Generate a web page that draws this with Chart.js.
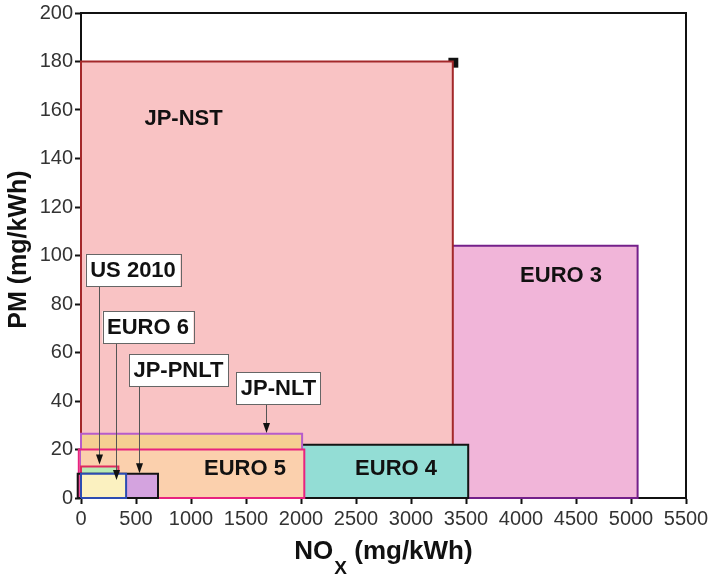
<!DOCTYPE html>
<html>
<head>
<meta charset="utf-8">
<script src="https://cdn.jsdelivr.net/npm/chart.js@4.4.0/dist/chart.umd.min.js"></script>
<style>
  html, body { margin: 0; padding: 0; background: #fff; }
</style>
</head>
<body>
<canvas id="chart" width="708" height="576"></canvas>
<script>
// emission limits, drawn bottom to top
const standards = ["EURO 3", "JP-NST", "EURO 4", "JP-NLT", "EURO 5", "US 2010", "JP-PNLT", "EURO 6"];
const noxStart = [0, 0, 0, 0, -20, 0, -30, 0];
const noxLimit = [5060, 3380, 3520, 2010, 2030, 340, 700, 410];
const pmLimit = [104, 180, 22, 26.5, 20, 13, 10, 10];

const markerNox = [3385];
const markerPm = [179.5];

const xTicks = [0, 500, 1000, 1500, 2000, 2500, 3000, 3500, 4000, 4500, 5000, 5500];
const yTicks = [0, 20, 40, 60, 80, 100, 120, 140, 160, 180, 200];

const fills = ["#f1b5d9", "#f9c3c4", "#93ddd5", "#f5cf92", "#fbd0ad", "#b8eab4", "#d4a3df", "#fbf1c0"];
const borders = ["#74208a", "#a3282a", "#141414", "#b65ccb", "#e8237f", "#df2a5e", "#141414", "#2c4cb2"];

// labels written inside the boxes
const boxLabels = [
  { text: "JP-NST", x: 932, y: 156.7 },
  { text: "EURO 3", x: 4364, y: 92 },
  { text: "EURO 5", x: 1491, y: 12.2 },
  { text: "EURO 4", x: 2864, y: 12.2 },
];

// call-out labels with arrows
const callouts = [
  { text: "US 2010", x: 473, y: 94, arrowX: 164, tipY: 13.8 },
  { text: "EURO 6", x: 609, y: 70.5, arrowX: 318, tipY: 7.4 },
  { text: "JP-PNLT", x: 886, y: 52.8, arrowX: 527, tipY: 10.2 },
  { text: "JP-NLT", x: 1795, y: 45.2, arrowX: 1682, tipY: 26.8 },
];

const FONT = "'Liberation Sans', Arial, Helvetica, sans-serif";

const datasets = standards.map((name, i) => ({
  label: name,
  data: [
    { x: noxStart[i], y: 0 },
    { x: noxStart[i], y: pmLimit[i] },
    { x: noxLimit[i], y: pmLimit[i] },
    { x: noxLimit[i], y: 0 },
    { x: noxStart[i], y: 0 },
  ],
  showLine: true,
  fill: "shape",
  backgroundColor: fills[i],
  borderColor: borders[i],
  borderWidth: 2,
  pointRadius: 0,
  tension: 0,
  clip: false,
  order: standards.length - i,
}));

datasets.push({
  label: "marker",
  data: markerNox.map((v, i) => ({ x: v, y: markerPm[i] })),
  pointStyle: "rect",
  pointRadius: 7,
  backgroundColor: "#111",
  borderColor: "#111",
  borderWidth: 0,
  clip: false,
  order: standards.length - 0.5,
});

const frame = {
  id: "frame",
  beforeDatasetsDraw(chart) {
    const { ctx, chartArea } = chart;
    ctx.save();
    ctx.strokeStyle = "#111";
    ctx.lineWidth = 2;
    ctx.beginPath();
    ctx.moveTo(chartArea.left, chartArea.top);
    ctx.lineTo(chartArea.right, chartArea.top);
    ctx.lineTo(chartArea.right, chartArea.bottom);
    ctx.stroke();
    ctx.restore();
  },
};

const labels = {
  id: "labels",
  afterDatasetsDraw(chart) {
    const { ctx } = chart;
    const xs = chart.scales.x;
    const ys = chart.scales.y;
    ctx.save();
    ctx.font = "bold 22px " + FONT;
    ctx.textAlign = "center";
    ctx.textBaseline = "middle";
    ctx.fillStyle = "#111";
    boxLabels.forEach((l) => {
      ctx.fillText(l.text, xs.getPixelForValue(l.x), ys.getPixelForValue(l.y) + 1);
    });

    callouts.forEach((c) => {
      const cx = xs.getPixelForValue(c.x);
      const cy = ys.getPixelForValue(c.y);
      const w = ctx.measureText(c.text).width + 9;
      const h = 32;
      const ax = Math.round(xs.getPixelForValue(c.arrowX)) + 0.5;
      const tip = ys.getPixelForValue(c.tipY);
      // arrow shaft
      ctx.strokeStyle = "#555";
      ctx.lineWidth = 1;
      ctx.beginPath();
      ctx.moveTo(ax, cy + h / 2);
      ctx.lineTo(ax, tip - 6);
      ctx.stroke();
      ctx.fillStyle = "#111";
      ctx.beginPath();
      ctx.moveTo(ax, tip);
      ctx.lineTo(ax - 3.5, tip - 10);
      ctx.lineTo(ax + 3.5, tip - 10);
      ctx.closePath();
      ctx.fill();
      // box
      ctx.fillStyle = "#fff";
      ctx.fillRect(cx - w / 2, cy - h / 2, w, h);
      ctx.strokeStyle = "#666";
      ctx.strokeRect(Math.round(cx - w / 2) + 0.5, Math.round(cy - h / 2) + 0.5, Math.round(w), h);
      ctx.fillStyle = "#111";
      ctx.fillText(c.text, cx, cy + 1);
    });
    ctx.restore();
  },
};

const axisTitles = {
  id: "axisTitles",
  afterDraw(chart) {
    const { ctx, chartArea } = chart;
    const big = "bold 26px " + FONT;
    const small = "bold 19px " + FONT;
    ctx.save();
    ctx.fillStyle = "#111";
    ctx.textBaseline = "alphabetic";
    ctx.textAlign = "left";

    ctx.font = big;
    const w1 = ctx.measureText("NO").width + 1;
    const w3 = ctx.measureText(" (mg/kWh)").width;
    ctx.font = small;
    const w2 = ctx.measureText("X").width;
    let x = (chartArea.left + chartArea.right) / 2 - (w1 + w2 + w3) / 2;
    const y = chartArea.bottom + 61;
    ctx.font = big;
    ctx.fillText("NO", x, y);
    x += w1;
    ctx.font = small;
    ctx.fillText("X", x, y + 15);
    x += w2;
    ctx.font = big;
    ctx.fillText(" (mg/kWh)", x, y);

    ctx.font = "bold 25px " + FONT;
    ctx.translate(26, (chartArea.top + chartArea.bottom) / 2 - 6);
    ctx.rotate(-Math.PI / 2);
    ctx.textAlign = "center";
    ctx.fillText("PM (mg/kWh)", 0, 0);
    ctx.restore();
  },
};

new Chart(document.getElementById("chart").getContext("2d"), {
  type: "scatter",
  data: { datasets },
  options: {
    responsive: false,
    animation: false,
    layout: { padding: { top: 13, right: 22, left: 0, bottom: 0 } },
    plugins: {
      legend: { display: false },
      tooltip: { enabled: false },
    },
    scales: {
      x: {
        type: "linear",
        min: 0,
        max: 5500,
        afterBuildTicks: (scale) => {
          scale.ticks = xTicks.map((v) => ({ value: v }));
        },
        afterFit: (scale) => {
          scale.height = 78;
          scale.paddingLeft = 0;
          scale.paddingRight = 0;
        },
        ticks: {
          color: "#333",
          font: { size: 20, family: FONT },
          padding: 3,
          maxRotation: 0,
          autoSkip: false,
          callback: (v) => String(v),
        },
        grid: {
          drawOnChartArea: false,
          tickLength: 6,
          tickColor: "#111",
          tickWidth: 2,
        },
        border: { color: "#111", width: 2 },
      },
      y: {
        type: "linear",
        min: 0,
        max: 200,
        afterBuildTicks: (scale) => {
          scale.ticks = yTicks.map((v) => ({ value: v }));
        },
        afterFit: (scale) => {
          scale.width = 81;
          scale.paddingTop = 0;
          scale.paddingBottom = 0;
        },
        ticks: {
          color: "#333",
          font: { size: 20, family: FONT },
          padding: 2,
          autoSkip: false,
          callback: (v) => String(v),
        },
        grid: {
          drawOnChartArea: false,
          tickLength: 6,
          tickColor: "#111",
          tickWidth: 2,
        },
        border: { color: "#111", width: 2 },
      },
    },
  },
  plugins: [frame, labels, axisTitles],
});
</script>
</body>
</html>
